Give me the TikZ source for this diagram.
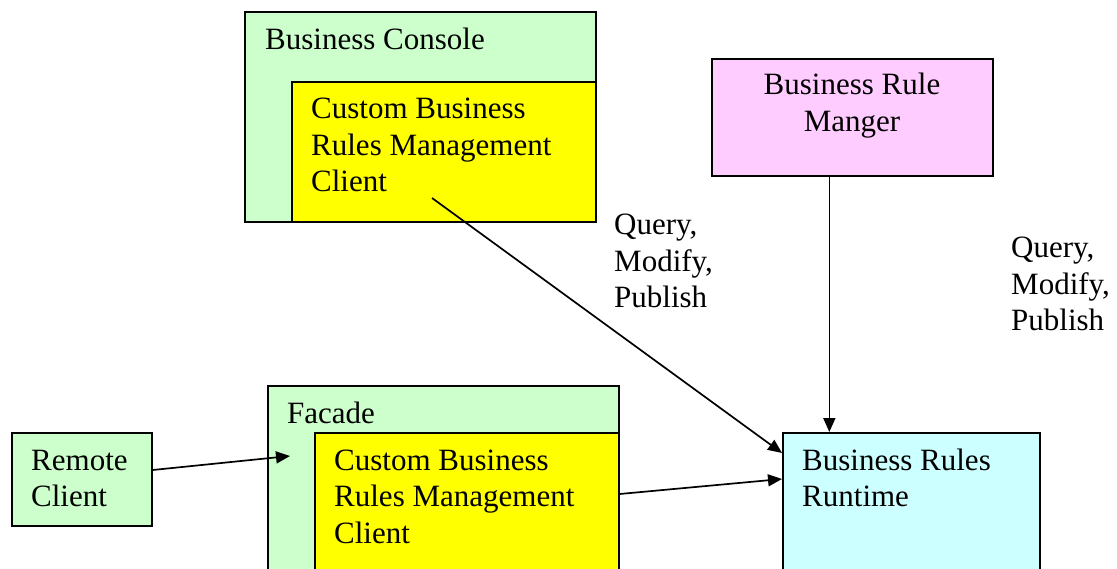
\documentclass[tikz,border=0pt]{standalone}
\usepackage{fontspec}
\setmainfont{Liberation Serif}
\usetikzlibrary{arrows.meta}
\definecolor{boxgreen}{HTML}{CCFFCC}
\definecolor{boxyellow}{HTML}{FFFF00}
\definecolor{boxpink}{HTML}{FFCCFF}
\definecolor{boxcyan}{HTML}{CCFFFF}
\tikzset{
  box/.style={draw=black, line width=1.7pt, rectangle, inner sep=0pt, anchor=north west},
  lbl/.style={anchor=base west, inner sep=0pt, font=\fontsize{31}{36.5}\selectfont},
  clbl/.style={anchor=base, inner sep=0pt, font=\fontsize{31}{36.5}\selectfont},
  arr/.style={line width=1.7pt, -{Triangle[length=14pt,width=12pt]}}
}
\begin{document}
\begin{tikzpicture}[x=1pt,y=-1pt]
\useasboundingbox (0,0) rectangle (1117,569);
\clip (0,0) rectangle (1117,569);

% Business Console with its embedded client
\node[box, fill=boxgreen, minimum width=351pt, minimum height=210pt] (bc) at (244,11) {};
\node[box, fill=boxyellow, minimum width=304pt, minimum height=140pt] (bcy) at (291,81) {};
\node[lbl] (bct) at (265,50) {Business Console};
\node[lbl] (bcy1) at (311,119) {Custom Business};
\node[lbl] (bcy2) at (311,155.5) {Rules Management};
\node[lbl] (bcy3) at (311,192) {Client};

% Business Rule Manager
\node[box, fill=boxpink, minimum width=281pt, minimum height=117pt] (brm) at (711,58) {};
\node[clbl] (brm1) at (852,95) {Business Rule};
\node[clbl] (brm2) at (852,131.5) {Manger};

% Facade with its embedded client
\node[box, fill=boxgreen, minimum width=351pt, minimum height=230pt] (fc) at (267,385) {};
\node[box, fill=boxyellow, minimum width=304pt, minimum height=180pt] (fcy) at (314,432) {};
\node[lbl] (fct) at (287,423) {Facade};
\node[lbl] (fcy1) at (334,470) {Custom Business};
\node[lbl] (fcy2) at (334,506.5) {Rules Management};
\node[lbl] (fcy3) at (334,543) {Client};

% Remote client
\node[box, fill=boxgreen, minimum width=140pt, minimum height=93pt] (rc) at (11,432) {};
\node[lbl] (rc1) at (31,470) {Remote};
\node[lbl] (rc2) at (31,506.5) {Client};

% Business Rules Runtime
\node[box, fill=boxcyan, minimum width=257pt, minimum height=180pt] (rt) at (782,432) {};
\node[lbl] (rt1) at (802,470) {Business Rules};
\node[lbl] (rt2) at (802,506.5) {Runtime};

% Operation labels
\node[lbl] (q1a) at (614,235) {Query,};
\node[lbl] (q1b) at (614,271.5) {Modify,};
\node[lbl] (q1c) at (614,308) {Publish};
\node[lbl] (q2a) at (1011,258) {Query,};
\node[lbl] (q2b) at (1011,294.5) {Modify,};
\node[lbl] (q2c) at (1011,331) {Publish};

% Connectors
\coordinate (bcyOut) at (432,198);
\coordinate (fcIn) at (290,456);
\draw[arr] (bcyOut) -- ([yshift=-21pt]rt.north west);
\draw[arr] ([xshift=-23pt]brm.south) -- ([xshift=-23pt]brm.south |- rt.north);
\draw[arr] ([yshift=-38pt]rc.north east) -- (fcIn);
\draw[arr] ([yshift=-62pt]fcy.north east) -- ([yshift=-47pt]rt.north west);
\end{tikzpicture}
\end{document}
